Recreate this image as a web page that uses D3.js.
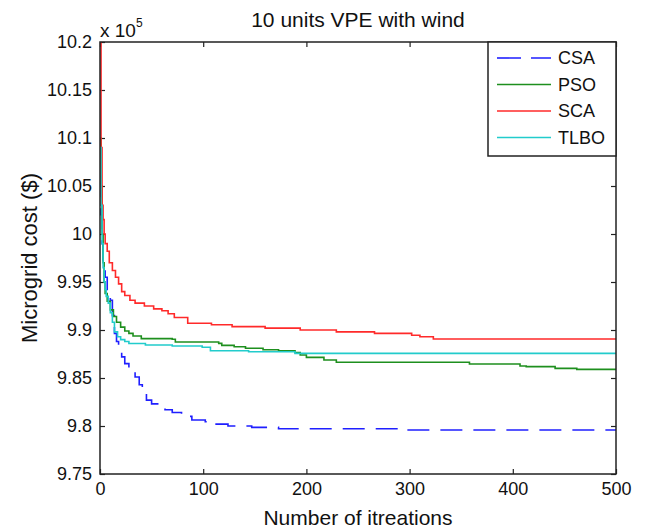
<!DOCTYPE html>
<html>
<head>
<meta charset="utf-8">
<script src="https://cdn.jsdelivr.net/npm/d3@7"></script>
<style>
  body { margin: 0; background: #fff; }
  svg { display: block; font-family: "Liberation Sans", Arial, sans-serif; }
</style>
</head>
<body>
<div id="chart"></div>
<script>
// series: [iteration, cost / 1e5] breakpoints (step after)
const seriesNames = ['CSA', 'PSO', 'SCA', 'TLBO'];
const seriesColors = ['#1f1fff', '#1e8f1e', '#ff2a2a', '#22cccc'];

const csa = [[0,10.06],[1,10.02],[2,9.99],[3,9.97],[5,9.955],[7,9.94],[10,9.931],[12,9.915],[14,9.8965],
  [16,9.888],[18,9.882],[21,9.872],[24,9.865],[28,9.858],[34,9.851],[38,9.843],[41,9.836],[45,9.827],
  [50,9.823],[57,9.82],[63,9.817],[70,9.814],[79,9.81],[89,9.8063],[102,9.8045],[111,9.802],[124,9.8],
  [147,9.7986],[173,9.7972],[290,9.7958],[500,9.7958]];
const pso = [[0,10.1],[1,10.05],[2,10.0],[3,9.97],[4,9.95],[5,9.938],[7,9.93],[10,9.921],[13,9.914],
  [16,9.908],[20,9.903],[24,9.899],[28,9.8965],[32,9.8937],[40,9.891],[70,9.8903],[73,9.8875],[115,9.8861],
  [118,9.884],[130,9.8825],[141,9.881],[158,9.8795],[173,9.8784],[189,9.8764],[194,9.874],[200,9.8715],
  [217,9.8688],[229,9.8664],[358,9.8646],[407,9.8625],[413,9.8618],[441,9.86],[462,9.859],[500,9.859]];
const sca = [[0,10.2],[1,10.09],[2,10.03],[3,10.015],[4,10.0],[5,9.99],[7,9.982],[9,9.97],[12,9.962],
  [15,9.955],[18,9.948],[21,9.94],[24,9.936],[29,9.931],[34,9.928],[43,9.925],[52,9.922],[60,9.92],
  [66,9.917],[72,9.913],[85,9.907],[108,9.9055],[128,9.9035],[160,9.902],[194,9.9],[229,9.898],
  [266,9.8965],[302,9.8945],[310,9.893],[323,9.8906],[500,9.8906]];
const tlbo = [[0,10.09],[1,10.03],[2,9.99],[3,9.965],[4,9.95],[5,9.942],[6,9.935],[8,9.928],[10,9.918],
  [12,9.908],[14,9.898],[17,9.893],[20,9.89],[24,9.888],[28,9.886],[44,9.8844],[70,9.8833],[99,9.882],
  [107,9.8784],[144,9.8774],[189,9.8757],[500,9.8757]];

const xTicks = [0, 100, 200, 300, 400, 500];
const yTicks = [9.75, 9.8, 9.85, 9.9, 9.95, 10, 10.05, 10.1, 10.15, 10.2];
const yTickLabels = ['9.75', '9.8', '9.85', '9.9', '9.95', '10', '10.05', '10.1', '10.15', '10.2'];

const width = 646, height = 532;
const margin = { top: 42, right: 30, bottom: 58, left: 100 };
const innerW = width - margin.left - margin.right;
const innerH = height - margin.top - margin.bottom;

const x = d3.scaleLinear().domain([0, 500]).range([margin.left, margin.left + innerW]);
const y = d3.scaleLinear().domain([9.75, 10.2]).range([margin.top + innerH, margin.top]);

const svg = d3.select('#chart').append('svg')
  .attr('width', width)
  .attr('height', height);

svg.append('rect').attr('width', width).attr('height', height).attr('fill', '#fff');

// clip so the curves stay inside the box
svg.append('clipPath').attr('id', 'plotclip')
  .append('rect')
  .attr('x', margin.left).attr('y', margin.top)
  .attr('width', innerW).attr('height', innerH);

// axes, matlab style: ticks pointing inward on all four sides
const axisColor = '#222';
const styleAxis = g => {
  g.select('.domain').remove();
  g.selectAll('.tick line').attr('stroke', axisColor).attr('stroke-width', 1.2);
  g.selectAll('.tick text').attr('fill', '#111').attr('font-size', 18);
};

svg.append('g')
  .attr('transform', `translate(${margin.left},0)`)
  .call(d3.axisLeft(y).tickValues(yTicks).tickFormat((d, i) => yTickLabels[i])
    .tickSizeInner(-5).tickSizeOuter(0).tickPadding(8))
  .call(styleAxis);

svg.append('g')
  .attr('transform', `translate(0,${margin.top + innerH})`)
  .call(d3.axisBottom(x).tickValues(xTicks).tickSizeInner(-5).tickSizeOuter(0).tickPadding(8))
  .call(styleAxis);

svg.append('g')
  .attr('transform', `translate(0,${margin.top})`)
  .call(d3.axisTop(x).tickValues(xTicks).tickFormat('').tickSizeInner(-5).tickSizeOuter(0))
  .call(styleAxis);

svg.append('g')
  .attr('transform', `translate(${margin.left + innerW},0)`)
  .call(d3.axisRight(y).tickValues(yTicks).tickFormat('').tickSizeInner(-5).tickSizeOuter(0))
  .call(styleAxis);

// lines
const line = d3.line()
  .curve(d3.curveStepAfter)
  .x(d => x(d[0]))
  .y(d => y(d[1]));

const allSeries = [csa, pso, sca, tlbo];
const dashes = ['22,11', null, null, null];

svg.append('g').attr('clip-path', 'url(#plotclip)')
  .selectAll('path.series')
  .data(allSeries)
  .join('path')
  .attr('class', 'series')
  .attr('d', line)
  .attr('fill', 'none')
  .attr('stroke', (d, i) => seriesColors[i])
  .attr('stroke-width', 1.6)
  .attr('stroke-dasharray', (d, i) => dashes[i]);

// frame
svg.append('rect')
  .attr('x', margin.left).attr('y', margin.top)
  .attr('width', innerW).attr('height', innerH)
  .attr('fill', 'none')
  .attr('stroke', axisColor)
  .attr('stroke-width', 1.5);

// legend
const lg = svg.append('g').attr('transform', `translate(${x(500) - 128},${margin.top})`);
lg.append('rect')
  .attr('width', 128).attr('height', 114)
  .attr('fill', '#fff')
  .attr('stroke', axisColor)
  .attr('stroke-width', 1.5);
const items = lg.selectAll('g.item')
  .data(seriesNames)
  .join('g')
  .attr('class', 'item')
  .attr('transform', (d, i) => `translate(0,${16 + i * 26.5})`);
items.append('line')
  .attr('x1', 9).attr('x2', 63)
  .attr('stroke', (d, i) => seriesColors[i])
  .attr('stroke-width', 1.6)
  .attr('stroke-dasharray', (d, i) => i === 0 ? '24,10' : null);
items.append('text')
  .attr('x', 70).attr('dy', '0.35em')
  .attr('font-size', 18)
  .attr('fill', '#111')
  .text(d => d);

// title, exponent, axis labels
svg.append('text')
  .attr('x', x(250)).attr('y', 27)
  .attr('text-anchor', 'middle')
  .attr('font-size', 21)
  .attr('fill', '#111')
  .text('10 units VPE with wind');

const expo = svg.append('text')
  .attr('x', margin.left).attr('y', 37)
  .attr('font-size', 19)
  .attr('fill', '#111');
expo.append('tspan').text('x 10');
expo.append('tspan').attr('dy', -10).attr('font-size', 12).text('5');

svg.append('text')
  .attr('x', x(250)).attr('y', 525)
  .attr('text-anchor', 'middle')
  .attr('font-size', 21)
  .attr('fill', '#111')
  .text('Number of itreations');

svg.append('text')
  .attr('transform', `translate(37,${margin.top + innerH / 2}) rotate(-90)`)
  .attr('text-anchor', 'middle')
  .attr('font-size', 22)
  .attr('fill', '#111')
  .text('Microgrid cost ($)');
</script>
</body>
</html>
